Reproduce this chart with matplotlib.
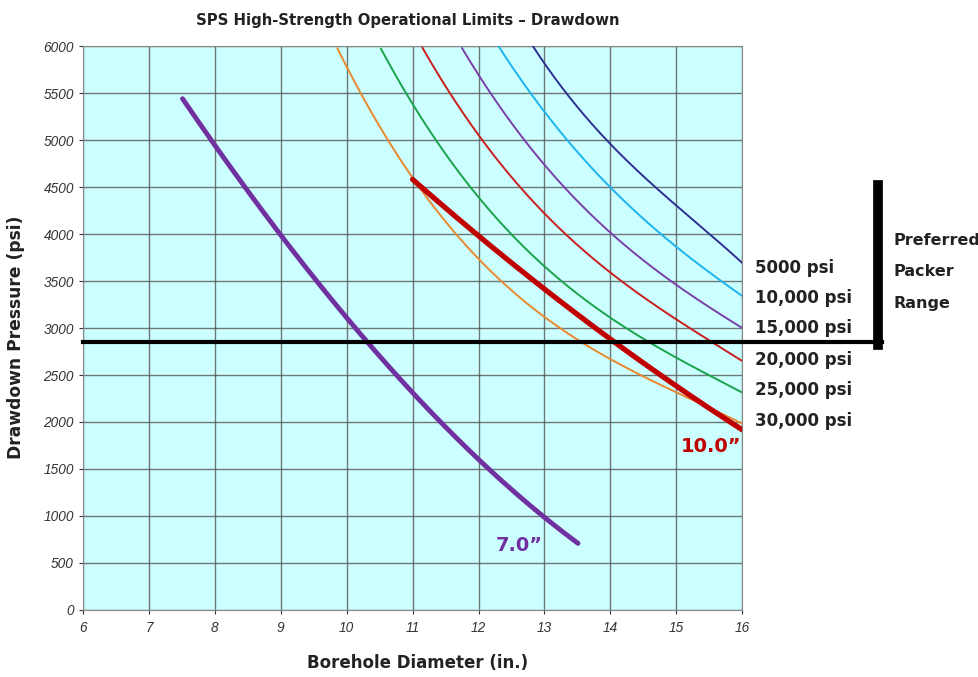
import numpy as np
import matplotlib
matplotlib.use("Agg")
import matplotlib.pyplot as plt

plt.rcParams['font.family'] = ['DejaVu Sans']

# rating curves (thin)
x_30k = [9.86, 10.2, 10.61, 11, 11.62, 12, 13, 13.54, 14, 15, 16]
p_30k = [6000, 5500, 5000, 4596, 4000, 3763, 3149, 2855, 2675, 2277, 2000]
x_25k = [10.52, 10.89, 11, 11.32, 11.9, 12, 13, 14, 14.55, 15, 16]
p_25k = [6000, 5500, 5370, 5000, 4500, 4390, 3675, 3124, 2850, 2666, 2324]
x_20k = [11.15, 11.54, 12.05, 12.63, 13, 13.54, 14, 15, 15.49, 16]
p_20k = [6000, 5500, 5000, 4500, 4250, 3854, 3571, 3113, 2850, 2658]
x_15k = [11.75, 12.15, 12.68, 13, 13.34, 14, 15, 16]
p_15k = [6000, 5500, 5000, 4736, 4500, 4020, 3440, 3007]
x_10k = [12.3, 12.63, 12.8, 13, 13.34, 14, 14.78, 15, 16]
p_10k = [6000, 5658, 5500, 5290, 5000, 4500, 4000, 3855, 3342]
x_5k = [12.83, 13, 13.31, 14, 14.71, 15, 15.51, 16]
p_5k = [6000, 5816, 5500, 4970, 4500, 4278, 4000, 3695]

# packer curves (thick)
x_10in = [11, 12, 13, 14, 15, 16]
p_10in = [4570, 3993, 3430, 2870, 2366, 1930]
x_7in = [7.51, 8, 9, 9.55, 10, 10.34, 10.73, 11, 11.42, 12, 12.17, 13, 13.51]
p_7in = [5422, 4970, 3989, 3500, 3085, 2850, 2500, 2313, 2000, 1605, 1500, 997, 698]

rating_labels = ['5000 psi', '10,000 psi', '15,000 psi',
                 '20,000 psi', '25,000 psi', '30,000 psi']
label_psi = [3638, 3319, 3000, 2660, 2340, 2010]

min_drawdown = 2850
packer_top = 4520


def smooth(xs, ps, deg=3):
    # smooth line through the read-off points
    xs = np.asarray(xs, float)
    c = np.polyfit(xs, ps, deg)
    xx = np.linspace(xs[0], xs[-1], 200)
    return xx, np.polyval(c, xx)


fig = plt.figure(figsize=(9.79, 6.77), dpi=100)
ax = fig.add_axes([0.0848, 0.099, 0.6733, 0.833])
ax.set_facecolor('#CCFFFF')

thin = [(x_5k, p_5k, '#2E3192'), (x_10k, p_10k, '#1EB4F0'),
        (x_15k, p_15k, '#7B3FA8'), (x_20k, p_20k, '#C81E1E'),
        (x_25k, p_25k, '#1AA34A'), (x_30k, p_30k, '#E8892F')]
for xs, ps, c in thin:
    xx, yy = smooth(xs, ps)
    ax.plot(xx, yy, color=c, lw=1.4, zorder=3)

xx, yy = smooth(x_10in, p_10in, 2)
ax.plot(xx, yy, color='#C00000', lw=3.8, solid_capstyle='round', zorder=4)
xx, yy = smooth(x_7in, p_7in)
ax.plot(xx, yy, color='#7030A0', lw=3.5, solid_capstyle='round', zorder=4)

ax.set_xlim(6, 16)
ax.set_ylim(0, 6000)
ax.set_xticks(np.arange(6, 17, 1))
ax.set_yticks(np.arange(0, 6001, 500))
ax.grid(True, color='#555555', lw=1, alpha=0.8)
ax.set_axisbelow(True)
for s in ax.spines.values():
    s.set_color('#888888')
ax.tick_params(colors='#333333', labelsize=9.8, length=3)
ax.tick_params(axis='x', pad=5)
for t in ax.get_xticklabels() + ax.get_yticklabels():
    t.set_fontfamily('Liberation Sans')
    t.set_fontstyle('italic')

# preferred packer range marks
ax.plot([6, 18.12], [min_drawdown, min_drawdown], color='black', lw=3,
        clip_on=False, zorder=5)
ax.plot([18.06, 18.06], [min_drawdown - 30, packer_top], color='black', lw=7,
        clip_on=False, zorder=5)

for lab, ps in zip(rating_labels, label_psi):
    ax.text(16.2, ps, lab, fontsize=12, fontweight='bold', color='#222222',
            va='center', ha='left', clip_on=False)
for lab, ps in zip(['Preferred', 'Packer', 'Range'], [3936, 3596, 3266]):
    ax.text(18.29, ps, lab, fontsize=11.5, fontweight='bold', color='#222222',
            va='center', ha='left', clip_on=False)

ax.text(15.53, 1734, '10.0\u201d', fontsize=14, fontweight='bold', color='#C00000',
        ha='center', va='center')
ax.text(12.62, 691, '7.0\u201d', fontsize=14, fontweight='bold', color='#7030A0',
        ha='center', va='center')

fig.text(0.416, 0.97, 'SPS High-Strength Operational Limits \u2013 Drawdown',
         fontsize=10.7, fontweight='bold', ha='center', va='center', color='#222222')
ax.set_xlabel('Borehole Diameter (in.)', fontsize=12, fontweight='bold',
              color='#222222')
ax.xaxis.set_label_coords(0.507, -0.078)
ax.set_ylabel('Drawdown Pressure (psi)', fontsize=12.3, fontweight='bold',
              color='#222222')
ax.yaxis.set_label_coords(-0.088, 0.484)

fig.savefig('out.png', dpi=100)
